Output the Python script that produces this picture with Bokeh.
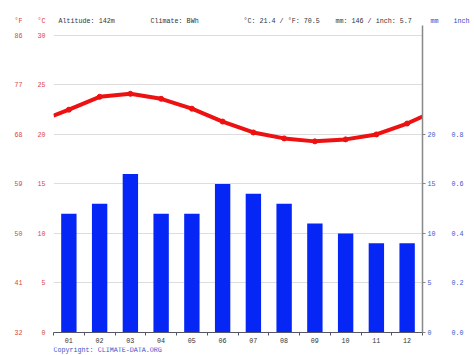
from bokeh.plotting import figure
from bokeh.layouts import column
from bokeh.models import (Range1d, LinearAxis, FixedTicker, Label, CustomJSTickFormatter)
from bokeh.embed import file_html
from bokeh.resources import INLINE

# ---- data ----
months = ["01", "02", "03", "04", "05", "06", "07", "08", "09", "10", "11", "12"]
temp_c = [22.5, 23.8, 24.1, 23.6, 22.6, 21.3, 20.2, 19.6, 19.3, 19.5, 20.0, 21.1]
temp_edge_c = [21.9, 21.8]   # where the curve meets the left / right frame edges
precip_mm = [12, 13, 16, 12, 12, 15, 14, 13, 11, 10, 9, 9]
c_ticks = [0, 5, 10, 15, 20, 25, 30]
f_ticks = [32, 41, 50, 59, 68, 77, 86]
mm_ticks = [0, 5, 10, 15, 20]
inch_ticks = [0.0, 0.2, 0.4, 0.6, 0.8]
header = [("°F", 14, "#dd3333"), ("°C", 37, "#dd3333"),
          ("Altitude: 142m", 58, "#333333"), ("Climate: BWh", 150, "#333333"),
          ("°C: 21.4 / °F: 70.5", 243, "#333333"), ("mm: 146 / inch: 5.7", 335, "#333333"),
          ("mm", 430, "#3344cc"), ("inch", 453, "#3344cc")]
copyright_text = "Copyright: CLIMATE-DATA.ORG"

FONT = "Liberation Mono"
FS = "6.7px"
RED = "#ee1111"
BLUE = "#0526f5"
LRED = "#dd4444"
LBLUE = "#4455cc"

W = 474
HEAD_H = 25
MAIN_H = 320
FOOT_H = 355 - HEAD_H - MAIN_H
FRAME_BOTTOM = 332

xs = list(range(1, len(months) + 1))


def blank(h):
    f = figure(width=W, height=h, output_backend="svg", toolbar_location=None,
               x_range=Range1d(0, W), y_range=Range1d(0, h),
               x_axis_location=None, y_axis_location=None,
               min_border=0, outline_line_color=None)
    f.xgrid.visible = False
    f.ygrid.visible = False
    f.frame_align = False
    return f


# ---- header strip ----
head = blank(HEAD_H)
for txt, xpos, col in header:
    head.add_layout(Label(x=xpos, y=HEAD_H - 20, text=txt, text_font=FONT,
                          text_font_size=FS, text_color=col,
                          text_baseline="middle", text_align="left"))

# ---- main chart ----
p = figure(width=W, height=MAIN_H, output_backend="svg", toolbar_location=None,
           x_range=Range1d(0.5, 12.5), y_range=Range1d(0, 31),
           min_border_left=53, min_border_right=52, min_border_top=0,
           min_border_bottom=HEAD_H + MAIN_H - FRAME_BOTTOM, outline_line_color=None,
           background_fill_color="white")
p.frame_align = False
p.extra_y_ranges = {"F": Range1d(32, 32 + 31 * 1.8), "inch": Range1d(0, 31 / 25.0)}

p.vbar(x=xs, top=precip_mm, width=0.5, bottom=0, fill_color=BLUE, line_color=None)
p.line(x=[0.5] + xs + [12.5], y=[temp_edge_c[0]] + temp_c + [temp_edge_c[1]],
       line_color=RED, line_width=4, line_join="round")
p.scatter(x=xs, y=temp_c, size=5, color=RED)

p.xgrid.visible = False
p.ygrid.ticker = FixedTicker(ticks=c_ticks)
p.ygrid.grid_line_color = "#dddddd"

xa = p.xaxis[0]
xa.ticker = FixedTicker(ticks=xs, minor_ticks=[x - 0.5 for x in xs] + [12.5])
xa.formatter = CustomJSTickFormatter(args=dict(labels=months),
                                     code="return labels[Math.round(tick) - 1];")
xa.major_tick_out = 0
xa.major_tick_in = 0
xa.minor_tick_out = 3
xa.minor_tick_in = 0
xa.minor_tick_line_color = "#555566"
xa.axis_line_color = "#555566"
xa.major_label_text_font = FONT
xa.major_label_text_font_size = FS
xa.major_label_text_color = "#333333"
xa.major_label_standoff = 2

ya = p.yaxis[0]
ya.ticker = FixedTicker(ticks=c_ticks)
ya.axis_line_color = None
ya.major_tick_out = 0
ya.major_tick_in = 0
ya.minor_tick_line_color = None
ya.major_label_standoff = 8
ya.major_label_text_font = FONT
ya.major_label_text_font_size = FS
ya.major_label_text_color = LRED

fa = LinearAxis(y_range_name="F", ticker=FixedTicker(ticks=f_ticks))
fa.axis_line_color = None
fa.major_tick_out = 0
fa.major_tick_in = 0
fa.minor_tick_line_color = None
fa.major_label_standoff = 12
fa.major_label_text_font = FONT
fa.major_label_text_font_size = FS
fa.major_label_text_color = LRED
p.add_layout(fa, "left")

ma = LinearAxis(ticker=FixedTicker(ticks=mm_ticks))
ma.axis_line_color = "#888888"
ma.axis_line_width = 1.5
ma.major_tick_out = 3
ma.major_tick_in = 0
ma.major_tick_line_color = "#888888"
ma.minor_tick_line_color = None
ma.major_label_standoff = 2
ma.major_label_text_font = FONT
ma.major_label_text_font_size = FS
ma.major_label_text_color = LBLUE
p.add_layout(ma, "right")

ia = LinearAxis(y_range_name="inch", ticker=FixedTicker(ticks=inch_ticks))
ia.formatter = CustomJSTickFormatter(code="return tick.toFixed(1);")
ia.axis_line_color = None
ia.major_tick_out = 0
ia.major_tick_in = 0
ia.minor_tick_line_color = None
ia.major_label_standoff = 13
ia.major_label_text_font = FONT
ia.major_label_text_font_size = FS
ia.major_label_text_color = LBLUE
p.add_layout(ia, "right")

# ---- footer strip ----
foot = blank(FOOT_H)
foot.add_layout(Label(x=53, y=355 - 351, text=copyright_text,
                      text_font=FONT, text_font_size=FS, text_color="#3355cc",
                      text_baseline="bottom", text_align="left"))

layout = column(head, p, foot, spacing=0)
open("out.html", "w").write(file_html(layout, INLINE))
